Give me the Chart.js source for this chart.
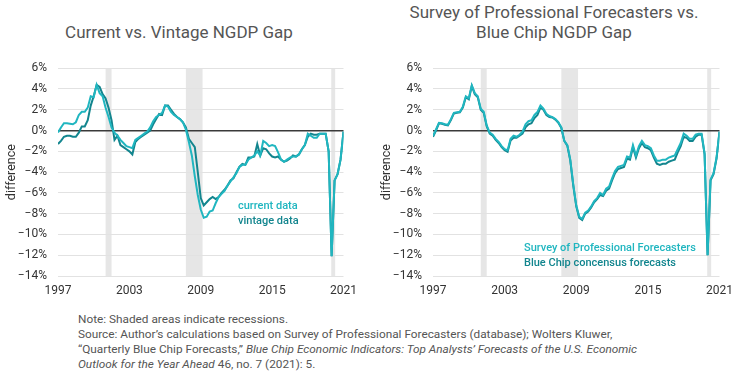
<!DOCTYPE html>
<html lang="en">
<head>
  <meta charset="UTF-8">
  <title>NGDP Gap</title>
  <style>
    * { margin: 0; padding: 0; box-sizing: border-box; }
    body {
      width: 741px; height: 375px;
      position: relative;
      background: #fff;
      font-family: Roboto, 'Open Sans', sans-serif;
      color: #555;
      overflow: hidden;
    }
    canvas { position: absolute; top: 50px; }
    #leftChart { left: 0; }
    #rightChart { left: 375px; }
    .title {
      position: absolute;
      font-size: 17px;
      color: #555;
      text-align: center;
      line-height: 20px;
      white-space: nowrap;
      transform: translateX(-50%);
    }
    .legend {
      position: absolute;
      font-size: 11px;
      font-weight: 500;
      line-height: 14.5px;
      white-space: nowrap;
    }
    .light { color: #20b6c0; }
    .dark  { color: #12858e; }
    .note {
      position: absolute;
      left: 78px; top: 312px;
      font-size: 11.8px;
      line-height: 15px;
      color: #555;
      white-space: nowrap;
    }
  </style>
  <script src="https://cdn.jsdelivr.net/npm/chart.js"></script>
</head>
<body>
  <div class="title" style="left:179px; top:22px;">Current vs. Vintage NGDP Gap</div>
  <div class="title" style="left:554px; top:2px;">Survey of Professional Forecasters vs.<br>Blue Chip NGDP Gap</div>

  <canvas id="leftChart" width="365" height="256"></canvas>
  <canvas id="rightChart" width="366" height="256"></canvas>

  <div class="legend" style="left:238px; top:199px;">
    <div class="light">current data</div>
    <div class="dark">vintage data</div>
  </div>
  <div class="legend" style="left:524px; top:241px;">
    <div class="light">Survey of Professional Forecasters</div>
    <div class="dark">Blue Chip concensus forecasts</div>
  </div>

  <div class="note">
    Note: Shaded areas indicate recessions.<br>
    Source: Author’s calculations based on Survey of Professional Forecasters (database); Wolters Kluwer,<br>
    “Quarterly Blue Chip Forecasts,” <i>Blue Chip Economic Indicators: Top Analysts’ Forecasts of the U.S. Economic</i><br>
    <i>Outlook for the Year Ahead</i> 46, no. 7 (2021): 5.
  </div>

  <script>
    // quarterly positions, 1997Q1 .. 2021Q1
    const quarters = Array.from({ length: 97 }, (_, i) => 1997 + i / 4);

    const currentData = [
      -0.2, 0.3, 0.7, 0.7, 0.65, 0.6, 0.8, 1.5, 1.8, 1.8,
      2.2, 3.3, 3.2, 4.4, 3.6, 3.3, 2.2, 1.3, 0.3, -0.2,
      -0.5, -0.9, -1.2, -1.5, -1.6, -1.7, -0.9, -0.7, -0.5, -0.3,
      -0.1, 0.3, 0.9, 1.3, 1.5, 1.7, 2.4, 2.3, 1.8, 1.5,
      1.3, 1.1, 0.8, 0.1, -1.1, -2.4, -4.4, -6.2, -7.6, -8.4,
      -8.3, -7.8, -7.7, -7.0, -6.4, -6.1, -5.8, -5.3, -4.9, -4.5,
      -4.1, -3.5, -3.3, -3.3, -2.8, -2.6, -2.4, -2.0, -2.4, -1.0,
      -1.2, -1.5, -1.4, -1.5, -2.1, -2.8, -3.0, -2.8, -2.6, -2.5,
      -2.5, -2.3, -1.8, -1.4, -0.3, -0.5, -0.7, -0.7, -0.3, -0.3,
      -0.3, -2.0, -12.1, -4.8, -4.2, -2.8, -0.1
    ];
    const vintageData = [
      -1.3, -1.0, -0.6, -0.5, -0.5, -0.6, -0.6, -0.2, 0.4, 0.4,
      1.0, 2.4, 3.3, 4.4, 4.2, 3.5, 3.1, 2.2, 1.0, -0.9,
      -0.5, -1.4, -1.6, -1.8, -2.0, -2.3, -1.1, -0.8, -0.6, -0.4,
      -0.2, 0.0, 0.6, 1.1, 1.6, 1.5, 2.4, 2.4, 2.0, 1.6,
      1.3, 1.1, 0.8, 0.3, -0.8, -1.2, -1.6, -4.0, -6.5, -7.2,
      -6.9, -6.6, -6.4, -6.6, -6.4, -6.0, -5.7, -5.3, -4.8, -4.6,
      -4.0, -3.5, -3.2, -3.3, -2.6, -2.6, -2.5, -1.3, -2.4, -1.7,
      -1.8, -2.2, -2.5, -2.6, -2.5, -2.8, -3.0, -2.9, -2.7, -2.4,
      -2.5, -2.3, -1.8, -1.4, -0.6, -0.3, -0.4, -0.4, -0.3, -0.3,
      -0.3, -2.0, -12.1, -4.8, -4.2, -2.8, -0.1
    ];
    const spfData = [
      -0.5, 0.1, 0.75, 0.7, 0.6, 0.55, 1.1, 1.7, 1.75, 1.8,
      2.3, 3.3, 3.1, 4.35, 3.6, 3.3, 2.1, 1.8, 0.5, -0.2,
      -0.4, -0.8, -1.1, -1.5, -1.8, -1.9, -0.8, -0.5, -0.6, -0.4,
      -0.1, 0.6, 0.9, 1.0, 1.5, 1.8, 2.4, 2.1, 1.6, 1.4,
      1.3, 1.1, 0.8, 0.3, -1.0, -1.4, -2.8, -5.2, -7.2, -8.3,
      -8.5, -7.9, -7.7, -7.3, -6.8, -6.5, -6.0, -6.2, -5.6, -5.4,
      -4.6, -3.9, -3.5, -3.4, -3.3, -2.5, -2.6, -1.4, -2.4, -1.5,
      -1.0, -1.4, -1.5, -1.7, -2.4, -2.9, -2.9, -2.8, -2.8, -2.6,
      -2.5, -2.4, -1.8, -1.2, -0.3, -0.5, -0.8, -0.8, -0.4, -0.3,
      -0.3, -2.2, -12.0, -4.7, -4.1, -2.6, -0.1
    ];
    const blueChipData = [
      -0.6, 0.0, 0.7, 0.65, 0.55, 0.5, 1.0, 1.65, 1.7, 1.75,
      2.2, 3.2, 3.0, 4.3, 3.5, 3.2, 2.0, 1.7, 0.4, -0.3,
      -0.5, -0.9, -1.2, -1.6, -1.9, -2.05, -0.95, -0.7, -0.7, -0.5,
      -0.3, 0.3, 0.6, 0.7, 1.2, 1.5, 2.2, 2.0, 1.5, 1.3,
      1.25, 1.05, 0.75, 0.25, -1.0, -1.45, -2.9, -5.3, -7.3, -8.4,
      -8.6, -8.0, -7.8, -7.4, -6.9, -6.6, -6.2, -6.3, -5.8, -5.6,
      -4.8, -4.1, -3.7, -3.6, -3.5, -2.7, -2.8, -1.6, -2.6, -1.7,
      -1.2, -1.6, -1.7, -1.9, -2.6, -3.2, -3.3, -3.2, -3.2, -3.0,
      -2.9, -2.8, -2.1, -1.5, -0.6, -0.7, -1.0, -1.0, -0.6, -0.4,
      -0.4, -2.3, -12.0, -4.8, -4.2, -2.7, -0.1
    ];

    const yearTicks = [1997, 2003, 2009, 2015, 2021];
    const pctTicks = [6, 4, 2, 0, -2, -4, -6, -8, -10, -12, -14];
    const recessions = [[2001.0, 2001.5], [2007.75, 2009.15], [2019.97, 2020.3]];

    const LIGHT = '#20b6c0';
    const DARK = '#12858e';

    const shadePlugin = {
      id: 'shade',
      beforeDraw(chart, args, opts) {
        const { ctx, chartArea: a, scales: { x } } = chart;
        ctx.save();
        ctx.fillStyle = '#e6e6e6';
        opts.bands.forEach(([s, e]) => {
          const x0 = x.getPixelForValue(s), x1 = x.getPixelForValue(e);
          ctx.fillRect(x0, a.top, x1 - x0, a.bottom - a.top);
        });
        ctx.restore();
      }
    };

    const pts = arr => arr.map((v, i) => ({ x: quarters[i], y: v }));

    function drawChart(id, lightSeries, darkSeries, padRight) {
      new Chart(document.getElementById(id), {
        type: 'line',
        data: {
          datasets: [
            { data: pts(lightSeries), borderColor: LIGHT, borderWidth: 2, pointRadius: 0, tension: 0 },
            { data: pts(darkSeries), borderColor: DARK, borderWidth: 2, pointRadius: 0, tension: 0 }
          ]
        },
        options: {
          responsive: false,
          animation: false,
          layout: { padding: { top: 4.4, right: padRight, left: 0, bottom: 0 } },
          plugins: {
            legend: { display: false },
            tooltip: { enabled: false },
            shade: { bands: recessions }
          },
          scales: {
            x: {
              type: 'linear',
              min: 1997, max: 2021,
              afterBuildTicks: s => { s.ticks = yearTicks.map(v => ({ value: v })); },
              afterFit: s => { s.height = 30; },
              grid: { display: false, drawTicks: false },
              border: { display: false },
              ticks: {
                padding: 8,
                color: '#333',
                font: { family: 'Roboto', size: 12 },
                maxRotation: 0,
                callback: v => String(v)
              }
            },
            y: {
              min: -14, max: 6,
              afterBuildTicks: s => { s.ticks = pctTicks.map(v => ({ value: v })); },
              afterFit: s => { s.width = 58; },
              border: { display: false },
              grid: {
                drawTicks: false,
                color: c => c.tick && c.tick.value === 0 ? '#3a3a3a' : '#e2e2e2',
                lineWidth: c => c.tick && c.tick.value === 0 ? 1.5 : 1
              },
              ticks: {
                padding: 11,
                color: '#333',
                font: { family: 'Roboto', size: 12 },
                callback: v => (v < 0 ? '\u2212' + Math.abs(v) : v) + '%'
              },
              title: {
                display: true,
                text: 'difference',
                color: '#333',
                font: { family: 'Roboto', size: 12.5 },
                padding: { top: 4, bottom: 0 }
              }
            }
          }
        },
        plugins: [shadePlugin]
      });
    }

    drawChart('leftChart', currentData, vintageData, 20);
    drawChart('rightChart', spfData, blueChipData, 21);
  </script>
</body>
</html>
